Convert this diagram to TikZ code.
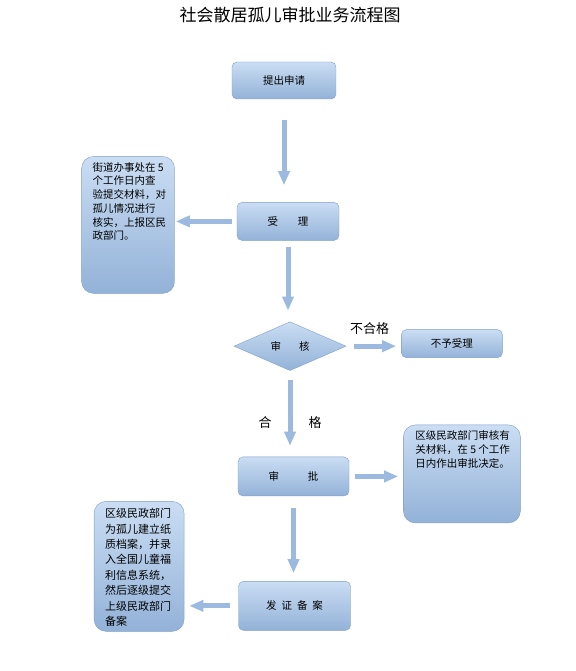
\documentclass[tikz,border=0pt]{standalone}
\usepackage{fontspec}
\setmainfont{Noto Sans CJK SC}
\usetikzlibrary{arrows.meta,positioning,shapes.geometric}
\definecolor{BoxTop}{HTML}{CADDF3}
\definecolor{BoxBottom}{HTML}{93B2D8}
\definecolor{BoxLine}{HTML}{7F9FC8}
\definecolor{ArrowFill}{HTML}{9CBADF}
\newcommand\boxfont{\fontsize{10.5}{13.7}\selectfont}
\tikzset{
  stepbox/.style={draw=BoxLine, rounded corners=5pt, top color=BoxTop, bottom color=BoxBottom, align=center, inner sep=0pt, font=\boxfont},
  notebox/.style={draw=BoxLine, rounded corners=12pt, top color=BoxTop, bottom color=BoxBottom, inner sep=0pt, font=\boxfont},
  checknode/.style={draw=BoxLine, diamond, top color=BoxTop, bottom color=BoxBottom, inner sep=0pt, minimum width=112pt, minimum height=47pt, font=\boxfont},
  flowlabel/.style={font=\fontsize{13}{15}\selectfont, inner sep=0pt},
  blockarrow/.style={line width=5pt, draw=ArrowFill, -{Triangle[width=11pt,length=14pt,fill=ArrowFill]}}
}
\begin{document}
\begin{tikzpicture}[x=1pt, y=-1pt]
  \useasboundingbox[fill=white] (0,0) rectangle (575,671);
  \node[font=\fontsize{17}{20}\selectfont] (title) at (290,15) {社会散居孤儿审批业务流程图};
  % main column
  \node[stepbox, minimum width=104pt, minimum height=37pt] (apply) at (284,80.5) {提出申请};
  \node[stepbox, minimum width=102pt, minimum height=38pt, below=103pt of apply, xshift=4pt] (accept) {受\hspace{20pt}理};
  \node[checknode, below=81pt of accept, xshift=2pt] (review) {审\hspace{18pt}核};
  \node[stepbox, minimum width=111pt, minimum height=39pt, below=86pt of review, xshift=3.5pt] (approve) {审\hspace{29pt}批};
  \node[stepbox, minimum width=112pt, minimum height=49pt, below=85pt of approve, xshift=1pt] (record) {发\hspace{5pt}证\hspace{5pt}备\hspace{5pt}案};
  % side notes
  \node[notebox, left=62pt of accept, yshift=-3.5pt] (street) {\parbox[c][137pt][t]{93pt}{\vspace{6pt}\hspace*{11pt}\parbox[t]{78pt}{街道办事处在 5\\个工作日内查\\验提交材料，对\\孤儿情况进行\\核实，上报区民\\政部门。}}};
  \node[stepbox, minimum width=101pt, minimum height=28pt, right=55pt of review, yshift=2.5pt] (reject) {不予受理};
  \node[notebox, right=54pt of approve, yshift=2.5pt] (district) {\parbox[c][98pt][t]{117pt}{\vspace{6pt}\hspace*{12pt}\parbox[t]{100pt}{区级民政部门审核有\\关材料，在 5 个工作\\日内作出审批决定。}}};
  \node[notebox, left=54pt of record, yshift=39.5pt] (archive) {\parbox[c][130pt][t]{90pt}{\vspace{7pt}\hspace*{11pt}\parbox[t]{72pt}{\fontsize{11}{15.4}\selectfont 区级民政部门\\为孤儿建立纸\\质档案，并录\\入全国儿童福\\利信息系统，\\然后逐级提交\\上级民政部门\\备案}}};
  % connectors
  \draw[blockarrow, shorten <=21pt, shorten >=17pt] (apply.south) -- (apply.south |- accept.north);
  \draw[blockarrow, shorten <=5pt, shorten >=1pt] (accept.west) -- (accept.west -| street.east);
  \draw[blockarrow, shorten <=6pt, shorten >=11pt] (accept.south) -- (accept.south |- review.north);
  \draw[blockarrow, shorten <=8pt, shorten >=5pt] (review.east) -- node[flowlabel, above=9pt, xshift=-4pt]{不合格} (review.east -| reject.west);
  \draw[blockarrow, shorten <=9pt, shorten >=11pt] (review.south) -- node[flowlabel, pos=0.6]{合\hspace{37pt}格} (review.south |- approve.north);
  \draw[blockarrow, shorten <=6pt, shorten >=5pt] (approve.east) -- (approve.east -| district.west);
  \draw[blockarrow, shorten <=12pt, shorten >=8pt] (approve.south) -- (approve.south |- record.north);
  \draw[blockarrow, shorten <=8pt, shorten >=5pt] (record.west) -- (record.west -| archive.east);
\end{tikzpicture}
\end{document}
